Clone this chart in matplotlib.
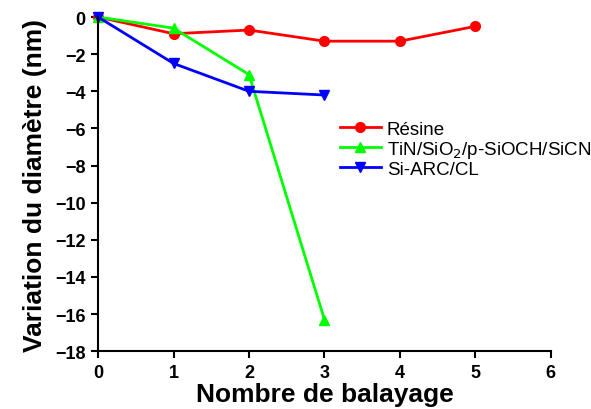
import numpy as np
import matplotlib.pyplot as plt

plt.rcParams['font.family'] = ['Liberation Sans', 'DejaVu Sans']

x_resine = [0, 1, 2, 3, 4, 5]
y_resine = [0, -0.9, -0.7, -1.3, -1.3, -0.5]
x_tin = [0, 1, 2, 3]
y_tin = [0, -0.6, -3.1, -16.3]
x_si = [0, 1, 2, 3]
y_si = [0, -2.5, -4.0, -4.2]

fig = plt.figure(figsize=(5.91, 4.10), dpi=100)
ax = fig.add_axes([0.166, 0.141, 0.766, 0.815])

ax.plot(x_resine, y_resine, color='#ff0000', marker='o', markersize=7, lw=2, label='Résine', clip_on=False)
ax.plot(x_tin, y_tin, color='#00ff00', marker='^', markersize=7, lw=2,
        label='TiN/SiO$_2$/p-SiOCH/SiCN', clip_on=False)
ax.plot(x_si, y_si, color='#0000ff', marker='v', markersize=7, lw=2, label='Si-ARC/CL', clip_on=False)

ax.set_xlim(0, 6)
ax.set_ylim(-18, 0)
ax.set_xticks(range(0, 7))
ax.set_yticks(range(-18, 1, 2))
for s in ['top', 'right']:
    ax.spines[s].set_visible(False)
for s in ['left', 'bottom']:
    ax.spines[s].set_linewidth(1.5)
ax.tick_params(direction='out', width=1.5, length=5, labelsize=13, pad=4)
for lab in ax.get_xticklabels() + ax.get_yticklabels():
    lab.set_fontweight('bold')

ax.set_xlabel('Nombre de balayage', fontsize=19, fontweight='bold', labelpad=1)
ax.set_ylabel('Variation du diamètre (nm)', fontsize=19, fontweight='bold', labelpad=6)

ax.legend(loc='upper left', bbox_to_anchor=(0.534, 0.69), frameon=False, fontsize=13.5,
          handlelength=2.2, handletextpad=0.3, labelspacing=0.05, borderpad=0,
          borderaxespad=0)

fig.savefig('out.png', dpi=100)
